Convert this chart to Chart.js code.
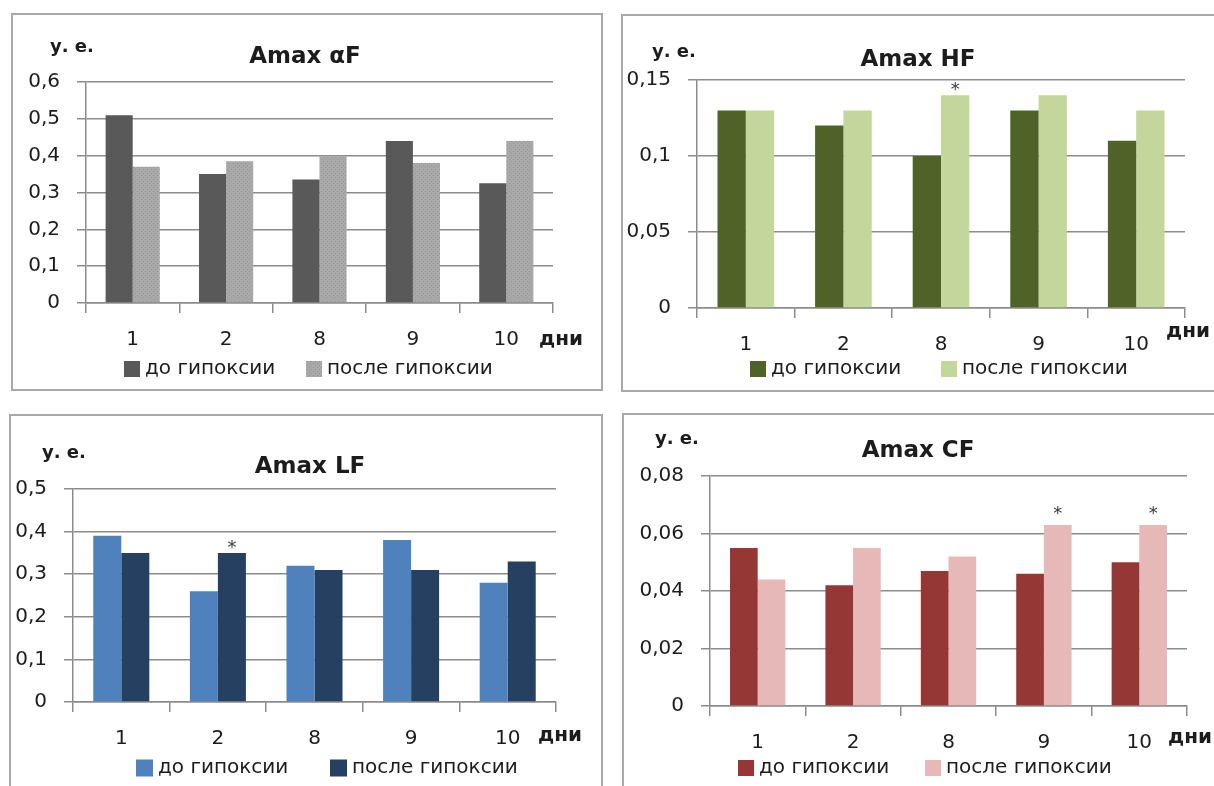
<!DOCTYPE html>
<html lang="ru">
<head>
<meta charset="utf-8">
<title>Amax</title>
<script src="https://cdn.jsdelivr.net/npm/chart.js@4.4.1/dist/chart.umd.min.js"></script>
<style>
  html, body { margin: 0; padding: 0; background: #fff; }
  body { position: relative; width: 1214px; height: 786px; overflow: hidden; }
  .panel { position: absolute; box-sizing: border-box; border: 2px solid #a8a8a8; }
  .panel canvas { position: absolute; left: -2px; top: -2px; }
</style>
</head>
<body>
<div class="panel" style="left:11px;top:13px;width:592px;height:378px"><canvas id="cAlpha" width="592" height="378"></canvas></div>
<div class="panel" style="left:621px;top:14px;width:595px;height:378px"><canvas id="cHF" width="595" height="378"></canvas></div>
<div class="panel" style="left:9px;top:414px;width:594px;height:382px"><canvas id="cLF" width="594" height="382"></canvas></div>
<div class="panel" style="left:622px;top:413px;width:594px;height:383px"><canvas id="cCF" width="594" height="383"></canvas></div>
<script>
// Days of observation
const days = ['1', '2', '8', '9', '10'];
const seriesNames = ['до гипоксии', 'после гипоксии'];

// Amax alpha-F
const alphaBefore = [0.51, 0.35, 0.335, 0.44, 0.325];
const alphaAfter  = [0.37, 0.385, 0.40, 0.38, 0.44];
// Amax HF
const hfBefore = [0.13, 0.12, 0.10, 0.13, 0.11];
const hfAfter  = [0.13, 0.13, 0.14, 0.14, 0.13];
// Amax LF
const lfBefore = [0.39, 0.26, 0.32, 0.38, 0.28];
const lfAfter  = [0.35, 0.35, 0.31, 0.31, 0.33];
// Amax CF
const cfBefore = [0.055, 0.042, 0.047, 0.046, 0.050];
const cfAfter  = [0.044, 0.055, 0.052, 0.063, 0.063];

// Days where the post-hypoxia value is marked as significant (*)
const alphaStars = [];
const hfStars = ['8'];
const lfStars = ['2'];
const cfStars = ['9', '10'];

// Value axis ticks
const alphaTicks = [0, 0.1, 0.2, 0.3, 0.4, 0.5, 0.6];
const hfTicks = [0, 0.05, 0.1, 0.15];
const lfTicks = [0, 0.1, 0.2, 0.3, 0.4, 0.5];
const cfTicks = [0, 0.02, 0.04, 0.06, 0.08];

const FONT = '"DejaVu Sans", Verdana, sans-serif';
const TEXT = '#1c1c1c';
const GRID = '#8c8c8c';
const X_AXIS_H = 62;

// decimal comma labels
const fmt = v => String(+Number(v).toFixed(4)).replace('.', ',');

// light grey with a fine stipple for the post-hypoxia alpha-F bars
function stipple(base, dot) {
  const c = document.createElement('canvas');
  c.width = 4; c.height = 4;
  const g = c.getContext('2d');
  g.fillStyle = base; g.fillRect(0, 0, 4, 4);
  g.fillStyle = dot; g.fillRect(0, 0, 1, 1); g.fillRect(2, 2, 1, 1);
  return g.createPattern(c, 'repeat');
}

// Title, unit captions, legend and significance stars
const panelText = {
  id: 'panelText',
  afterDraw(chart, args, o) {
    const ctx = chart.ctx;
    ctx.save();
    ctx.fillStyle = TEXT;
    ctx.textBaseline = 'alphabetic';
    ctx.textAlign = 'center';
    ctx.font = 'bold 23px ' + FONT;
    ctx.fillText(o.title, o.titleX, o.titleY);

    ctx.textAlign = 'left';
    ctx.font = 'bold 18px ' + FONT;
    ctx.fillText('у. е.', o.unitX, o.unitY);
    ctx.font = 'bold 20px ' + FONT;
    ctx.fillText('дни', o.daysX, o.daysY);

    ctx.font = '20px ' + FONT;
    ctx.textBaseline = 'middle';
    chart.data.datasets.forEach((ds, i) => {
      const x = o.legendX[i];
      ctx.fillStyle = ds.backgroundColor;
      ctx.fillRect(x, o.legendY - o.box / 2, o.box, o.box);
      ctx.fillStyle = TEXT;
      ctx.fillText(ds.label, x + o.box + 5, o.legendY);
    });

    const meta = chart.getDatasetMeta(1);
    ctx.font = '18px ' + FONT;
    ctx.textAlign = 'center';
    ctx.textBaseline = 'alphabetic';
    ctx.fillStyle = '#3a3a3a';
    o.stars.forEach(day => {
      const bar = meta.data[chart.data.labels.indexOf(day)];
      ctx.fillText('*', bar.x, bar.y - o.starGap + 10);
    });
    ctx.restore();
  }
};

function makeChart(id, before, after, colors, ticks, stars, area, text) {
  const canvas = document.getElementById(id);
  return new Chart(canvas, {
    type: 'bar',
    data: {
      labels: days,
      datasets: [
        { label: seriesNames[0], data: before, backgroundColor: colors[0] },
        { label: seriesNames[1], data: after, backgroundColor: colors[1] }
      ]
    },
    options: {
      responsive: false,
      animation: false,
      devicePixelRatio: 1,
      categoryPercentage: 0.58,
      barPercentage: 1.0,
      layout: {
        padding: {
          left: 0,
          top: area.top,
          right: canvas.width - area.right,
          bottom: canvas.height - area.bottom - X_AXIS_H
        }
      },
      scales: {
        x: {
          offset: true,
          grid: { offset: true, drawOnChartArea: false, drawTicks: true, tickLength: 10, color: GRID, lineWidth: 1.5 },
          border: { display: true, color: GRID, width: 1.5 },
          ticks: { font: { family: FONT, size: 20 }, color: TEXT, padding: 15, maxRotation: 0, autoSkip: false },
          afterFit(s) { s.height = X_AXIS_H; }
        },
        y: {
          min: ticks[0],
          max: ticks[ticks.length - 1],
          afterBuildTicks(s) { s.ticks = ticks.map(v => ({ value: v })); },
          grid: { color: GRID, lineWidth: 1.5, drawTicks: true, tickLength: 9 },
          border: { display: true, color: GRID, width: 1.5 },
          ticks: { font: { family: FONT, size: 20 }, color: TEXT, padding: 17, callback: v => fmt(v) },
          afterFit(s) { s.width = area.left; }
        }
      },
      plugins: {
        legend: { display: false },
        title: { display: false },
        tooltip: { enabled: false },
        panelText: Object.assign({ stars: stars }, text)
      }
    },
    plugins: [panelText]
  });
}

makeChart('cAlpha', alphaBefore, alphaAfter, ['#595959', stipple('#a9a9a9', '#959595')], alphaTicks, alphaStars,
  { left: 75, top: 69, right: 542, bottom: 290 },
  { title: 'Amax αF', titleX: 294, titleY: 50, unitX: 39, unitY: 39, daysX: 528, daysY: 332,
    legendX: [113, 295], legendY: 356, box: 16, starGap: 10 });

makeChart('cHF', hfBefore, hfAfter, ['#4f6228', '#c3d69b'], hfTicks, hfStars,
  { left: 76, top: 66, right: 564, bottom: 294 },
  { title: 'Amax HF', titleX: 297, titleY: 52, unitX: 31, unitY: 43, daysX: 545, daysY: 323,
    legendX: [129, 320], legendY: 355, box: 16, starGap: 10 });

makeChart('cLF', lfBefore, lfAfter, ['#4f81bd', '#254061'], lfTicks, lfStars,
  { left: 64, top: 75, right: 547, bottom: 288 },
  { title: 'Amax LF', titleX: 301, titleY: 59, unitX: 33, unitY: 44, daysX: 529, daysY: 327,
    legendX: [127, 321], legendY: 354, box: 17, starGap: 10 });

makeChart('cCF', cfBefore, cfAfter, ['#953735', '#e6b9b8'], cfTicks, cfStars,
  { left: 88, top: 63, right: 565, bottom: 293 },
  { title: 'Amax CF', titleX: 296, titleY: 44, unitX: 33, unitY: 31, daysX: 546, daysY: 330,
    legendX: [116, 303], legendY: 355, box: 16, starGap: 16 });
</script>
</body>
</html>
